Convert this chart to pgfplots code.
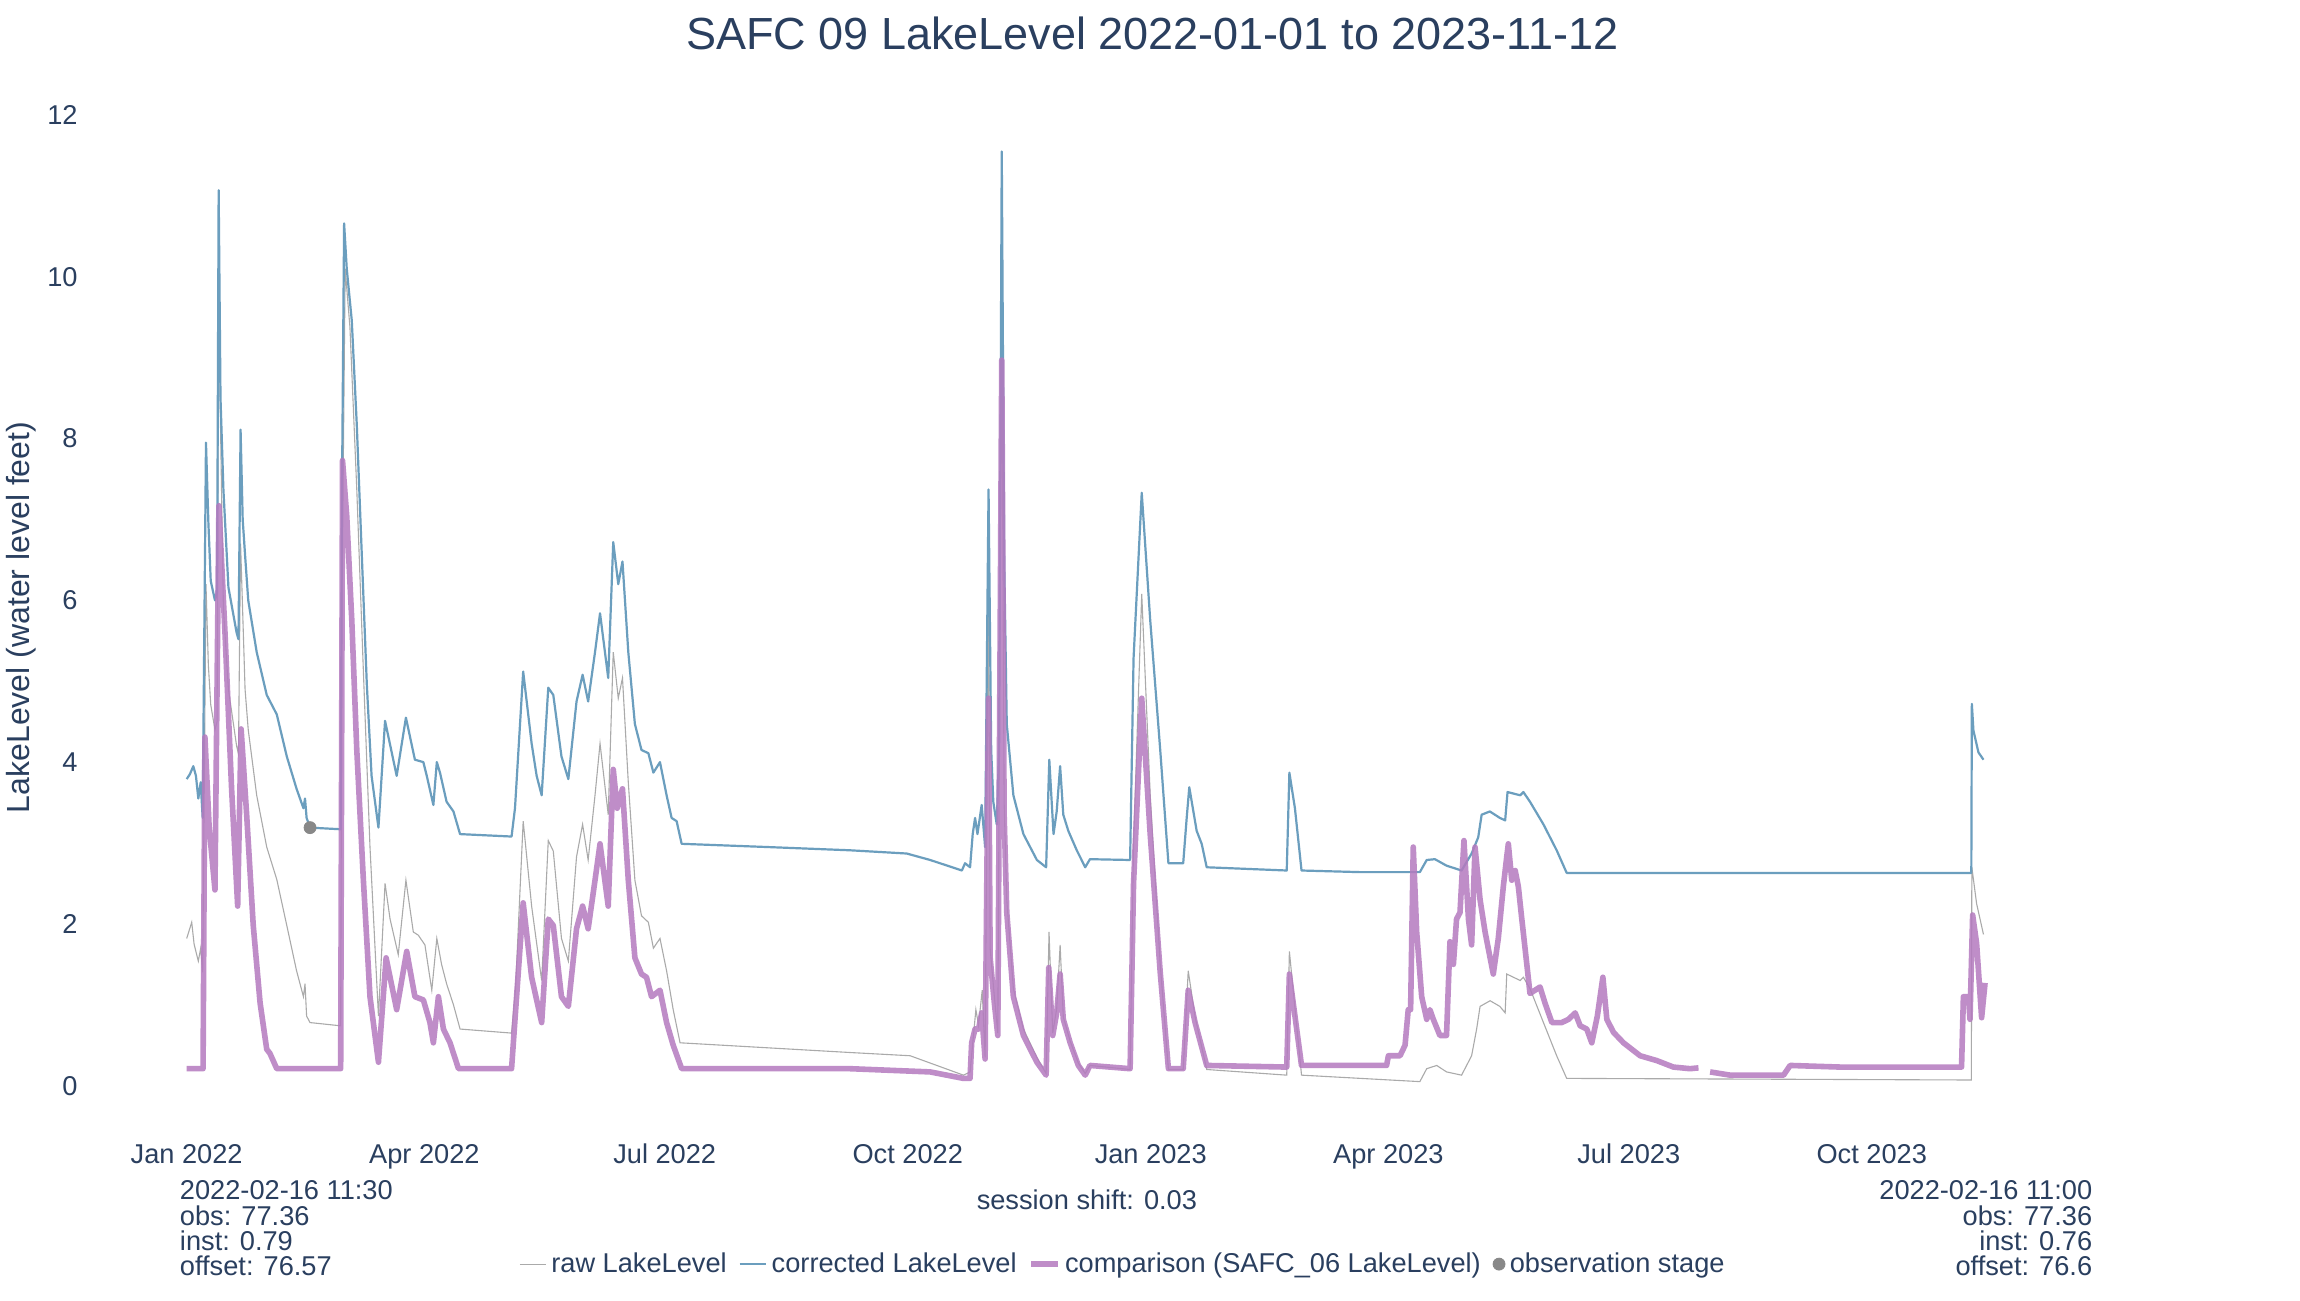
\documentclass[border=0pt]{standalone}
\usepackage{fontspec}
\setmainfont{Liberation Sans}
\usepackage{pgfplots}
\pgfplotsset{compat=1.18}
\definecolor{textcol}{HTML}{2A3F5F}
\definecolor{rawcol}{HTML}{AAAAAA}
\definecolor{corrcol}{HTML}{6B9EBE}
\definecolor{compcol}{HTML}{B47ABF}
\definecolor{obscol}{HTML}{888888}
\newcommand\af{\fontsize{13.6}{16}\selectfont}
\begin{document}
\begin{tikzpicture}
\useasboundingbox (0,0) rectangle (1150pt,-650pt);
\fill[white] (0,0) rectangle (1150pt,-650pt);
\begin{axis}[
  at={(93.35pt,-569.4pt)}, anchor=south west,
  scale only axis, width=962.95pt, height=528.2pt,
  xmin=0, xmax=729.2, ymin=-0.657, ymax=12.403,
  clip=false,
  axis line style={draw=none}, tick style={draw=none}, major tick length=0pt,
  xtick={0,90,181,273,365,455,546,638},
  xticklabels={Jan 2022,Apr 2022,Jul 2022,Oct 2022,Jan 2023,Apr 2023,Jul 2023,Oct 2023},
  ytick={0,2,4,6,8,10,12},
  /pgf/number format/assume math mode=true,
  ticklabel style={font=\af, text=textcol, inner sep=0pt},
  xticklabel style={anchor=base, yshift=-12.5pt},
  yticklabel style={anchor=east, xshift=-54.35pt},
  title={SAFC 09 LakeLevel 2022-01-01 to 2023-11-12},
  every axis title/.style={at={(axis description cs:0.5014,1.0315)}, anchor=base, font=\fontsize{22.5}{27}\selectfont, text=textcol, inner sep=0pt},
  ylabel={LakeLevel (water level feet)},
  every axis y label/.style={at={(axis description cs:-0.0858,0.4935)}, rotate=90, anchor=center, font=\fontsize{16}{19}\selectfont, text=textcol, inner sep=0pt},
  unbounded coords=jump,
  legend columns=4,
  legend cell align=left,
  legend image code/.code={\draw[#1] (0pt,0pt) -- (13.3pt,0pt);},
  legend style={at={(axis description cs:0.4856,-0.1186)}, anchor=center, draw=none, fill=none, inner sep=0pt, font=\af, text=textcol, nodes={inner sep=0pt}, /tikz/every odd column/.append style={column sep=2.2pt}, /tikz/every even column/.append style={column sep=5.9pt}},
]
\addplot[rawcol, line width=0.55pt] coordinates {
(0.0,1.82) (1.9,2.02) (2.8,1.75) (4.4,1.54) (5.3,1.7) (6.05,1.4) (7.3,6.2) (8.2,5.2) (9.1,4.71) (10.7,4.4) (11.5,4.5) (12.1,9.6) (13.9,5.9) (15.8,4.9) (18.9,4.2) (19.6,4.1) (20.4,6.7) (22.1,4.9) (23.3,4.4) (26.5,3.59) (30.3,2.95) (34.1,2.55) (37.9,1.98) (41.6,1.42) (44.2,1.1) (44.8,1.26) (45.4,0.86) (46.7,0.78) (58.3,0.74) (58.8,6.0) (60.0,10.1) (61.8,9.38) (64.4,7.37) (66.9,5.12) (69.4,2.95) (72.6,0.86) (75.1,2.5) (77.0,2.06) (80.1,1.62) (83.0,2.54) (85.8,1.9) (87.7,1.86) (90.2,1.74) (92.8,1.18) (94.7,1.82) (96.5,1.5) (98.4,1.26) (101.0,1.0) (103.5,0.7) (123.0,0.65) (124.5,1.2) (127.4,3.27) (130.6,2.22) (134.4,1.3) (136.9,3.03) (138.8,2.9) (141.9,1.82) (144.5,1.54) (147.6,2.83) (149.9,3.23) (152.0,2.79) (154.6,3.59) (156.5,4.23) (159.6,3.35) (161.5,5.36) (163.4,4.79) (165.0,5.04) (167.2,3.75) (169.7,2.54) (172.2,2.1) (174.8,2.02) (176.7,1.7) (179.2,1.82) (181.7,1.42) (184.2,0.94) (186.8,0.53) (251.1,0.41) (273.9,0.37) (294.1,0.13) (296.6,0.17) (298.8,0.94) (299.8,0.75) (301.2,1.18) (302.3,0.35) (303.6,6.2) (304.2,1.7) (305.8,1.1) (307.1,0.65) (308.6,9.5) (309.5,3.5) (310.5,2.3) (313.0,1.2) (316.8,0.7) (321.9,0.35) (325.4,0.15) (326.5,1.9) (327.9,0.65) (329.4,0.95) (330.7,1.74) (331.9,0.85) (334.5,0.55) (337.6,0.28) (340.2,0.15) (342.0,0.25) (357.2,0.2) (358.5,3.0) (361.6,6.08) (364.8,3.6) (368.6,1.5) (371.7,0.2) (377.3,0.2) (379.2,1.42) (381.8,0.85) (386.2,0.2) (416.5,0.13) (417.5,1.66) (422.1,0.13) (466.9,0.05) (469.5,0.21) (473.3,0.25) (477.0,0.17) (482.7,0.13) (486.5,0.37) (488.4,0.7) (489.7,0.98) (493.5,1.05) (497.2,0.98) (499.2,0.9) (499.8,1.38) (504.9,1.3) (506.1,1.34) (508.6,1.2) (513.7,0.78) (518.7,0.37) (522.5,0.09) (600,0.08) (675.7,0.07) (675.9,2.7) (677.7,2.25) (680.3,1.87)
};
\addlegendentry{raw LakeLevel}
\addplot[corrcol, line width=1.1pt, line join=round] coordinates {
(0.0,3.79) (1.2,3.85) (2.5,3.95) (3.5,3.83) (4.4,3.55) (5.3,3.75) (6.05,3.31) (7.3,7.95) (8.2,6.97) (9.1,6.24) (10.7,6.0) (11.5,6.1) (12.1,11.07) (12.8,8.5) (13.9,7.37) (15.8,6.16) (18.9,5.6) (19.6,5.52) (20.4,8.11) (21.2,7.0) (22.1,6.56) (23.3,6.0) (26.5,5.36) (30.3,4.83) (34.1,4.59) (37.9,4.07) (41.6,3.67) (44.2,3.43) (44.8,3.55) (45.4,3.31) (46.7,3.19) (58.3,3.17) (58.8,7.37) (59.6,10.66) (60.6,10.1) (62.5,9.46) (64.4,8.17) (66.3,6.56) (68.2,4.96) (70.0,3.83) (72.6,3.19) (75.1,4.51) (79.5,3.83) (83.0,4.55) (86.4,4.03) (89.6,4.0) (90.9,3.83) (93.4,3.47) (94.7,4.0) (95.9,3.87) (98.4,3.51) (101.0,3.39) (103.5,3.11) (123.0,3.08) (124.3,3.43) (127.4,5.12) (130.6,4.23) (132.5,3.83) (134.4,3.59) (136.9,4.92) (138.8,4.83) (141.9,4.07) (144.5,3.79) (147.6,4.75) (149.9,5.08) (152.0,4.75) (154.6,5.36) (156.5,5.84) (159.6,5.04) (161.5,6.72) (163.4,6.2) (165.0,6.48) (167.2,5.36) (169.7,4.47) (172.2,4.15) (174.8,4.11) (176.7,3.87) (179.2,4.0) (181.7,3.59) (183.6,3.31) (185.5,3.27) (187.4,2.99) (220,2.95) (251.1,2.91) (272.6,2.87) (281.5,2.79) (293.5,2.66) (294.7,2.75) (296.6,2.7) (297.6,3.11) (298.5,3.31) (299.4,3.11) (301.0,3.47) (302.3,2.95) (303.6,7.37) (304.6,4.15) (305.4,3.51) (306.7,3.23) (307.6,4.15) (308.6,11.55) (309.5,6.56) (310.5,4.47) (313.0,3.59) (316.8,3.11) (321.9,2.79) (325.4,2.7) (326.6,4.03) (328.2,3.11) (329.4,3.39) (330.7,3.95) (331.9,3.35) (333.8,3.15) (337.0,2.91) (340.2,2.7) (342.0,2.8) (357.2,2.79) (358.5,5.28) (361.6,7.33) (364.8,5.76) (368.6,4.15) (371.7,2.75) (377.3,2.75) (378.6,3.3) (379.6,3.69) (382.4,3.15) (384.3,2.99) (386.2,2.7) (416.5,2.66) (417.5,3.87) (419.6,3.43) (422.1,2.66) (444.2,2.64) (466.9,2.64) (469.5,2.79) (472.6,2.8) (477.0,2.72) (482.7,2.66) (486.5,2.87) (489.0,3.07) (490.3,3.35) (493.4,3.39) (497.2,3.31) (499.2,3.28) (500.1,3.63) (504.9,3.59) (506.1,3.63) (508.6,3.51) (513.7,3.23) (518.7,2.91) (522.5,2.63) (600,2.63) (675.7,2.63) (675.9,4.72) (676.5,4.39) (678.4,4.12) (680.3,4.03)
};
\addlegendentry{corrected LakeLevel}
\addplot[compcol, opacity=0.85, line width=2.8pt, line join=round] coordinates {
(0.0,0.21) (6.2,0.21) (6.9,4.31) (8.5,3.2) (10.7,2.42) (12.2,7.17) (14.5,5.6) (17.0,3.67) (19.3,2.22) (20.6,4.41) (22.7,3.35) (25.2,1.98) (27.8,1.02) (30.3,0.45) (31.5,0.4) (34.1,0.21) (58.3,0.21) (59.0,7.73) (60.6,7.04) (62.5,5.76) (64.4,4.15) (66.9,2.54) (69.4,1.1) (72.6,0.29) (75.5,1.58) (79.5,0.94) (83.3,1.66) (86.4,1.1) (89.6,1.06) (92.1,0.78) (93.4,0.53) (95.3,1.1) (97.2,0.7) (99.7,0.53) (102.9,0.21) (123.0,0.21) (124.9,1.1) (127.4,2.26) (130.6,1.34) (134.4,0.78) (136.9,2.06) (138.8,1.98) (141.9,1.1) (144.5,0.98) (147.6,1.94) (149.9,2.22) (152.0,1.94) (154.6,2.54) (156.5,2.99) (159.6,2.22) (161.5,3.91) (163.0,3.43) (165.0,3.67) (167.2,2.54) (169.7,1.58) (172.2,1.38) (174.1,1.34) (176.0,1.1) (179.2,1.18) (181.7,0.78) (184.2,0.5) (187.4,0.21) (251.1,0.21) (281.5,0.17) (294.1,0.09) (296.6,0.09) (297.2,0.53) (298.5,0.7) (299.8,0.7) (301.0,0.9) (302.3,0.33) (303.6,4.79) (304.2,1.58) (305.8,1.02) (307.1,0.62) (308.6,8.97) (309.5,3.35) (310.5,2.14) (313.0,1.1) (316.8,0.62) (321.9,0.29) (325.4,0.13) (326.4,1.46) (327.9,0.62) (329.4,0.9) (330.7,1.38) (331.9,0.82) (334.5,0.53) (337.6,0.25) (340.2,0.13) (342.0,0.25) (357.2,0.21) (358.5,2.5) (361.6,4.79) (364.8,3.11) (368.6,1.4) (371.7,0.21) (377.3,0.21) (379.2,1.18) (381.8,0.78) (386.2,0.25) (416.5,0.23) (417.5,1.38) (422.1,0.25) (454.3,0.25) (455.0,0.37) (459.4,0.37) (461.3,0.5) (462.5,0.94) (463.4,0.94) (464.4,2.95) (465.7,1.9) (467.6,1.1) (469.5,0.82) (470.7,0.94) (472.0,0.82) (474.5,0.62) (477.0,0.62) (478.3,1.78) (479.6,1.5) (480.8,2.06) (482.1,2.14) (483.6,3.03) (485.3,2.06) (486.5,1.74) (487.8,2.95) (489.7,2.3) (491.6,1.9) (493.5,1.58) (494.7,1.38) (496.6,1.82) (498.5,2.46) (499.8,2.83) (500.4,2.99) (501.7,2.54) (503.0,2.66) (504.2,2.46) (505.5,2.06) (507.4,1.5) (508.6,1.14) (510.5,1.18) (512.4,1.22) (514.3,1.02) (516.9,0.78) (520.6,0.78) (523.2,0.82) (525.7,0.9) (527.6,0.74) (530.1,0.7) (532.0,0.53) (534.1,0.86) (536.2,1.34) (537.7,0.82) (540.2,0.66) (544.0,0.53) (550.3,0.37) (556.6,0.31) (562.9,0.23) (569.2,0.21) (572.4,0.22) (574.5,nan) (576.8,0.17) (584.4,0.13) (594.5,0.13) (604.6,0.13) (607.1,0.25) (626,0.23) (672.0,0.23) (672.7,1.1) (674.6,1.1) (675.2,0.82) (676.2,2.11) (677.7,1.76) (679.6,0.84) (680.9,1.27)
};
\addlegendentry{comparison (SAFC\_06 LakeLevel)}
\addplot[only marks, mark=*, mark size=3pt, color=obscol, legend image code/.code={\fill[obscol] (6.65pt,0pt) circle (3pt);}] coordinates {(46.7,3.19)};
\addlegendentry{observation stage}
\node[anchor=base west, inner sep=0pt, font=\af, text=textcol] at (axis description cs:-0.0037,-0.0577) {2022-02-16 11:30};
\node[anchor=base west, inner sep=0pt, font=\af, text=textcol] at (axis description cs:-0.0037,-0.0823) {obs: 77.36};
\node[anchor=base west, inner sep=0pt, font=\af, text=textcol] at (axis description cs:-0.0037,-0.1060) {inst: 0.79};
\node[anchor=base west, inner sep=0pt, font=\af, text=textcol] at (axis description cs:-0.0037,-0.1297) {offset: 76.57};
\node[anchor=base east, inner sep=0pt, font=\af, text=textcol] at (axis description cs:0.9896,-0.0577) {2022-02-16 11:00};
\node[anchor=base east, inner sep=0pt, font=\af, text=textcol] at (axis description cs:0.9896,-0.0823) {obs: 77.36};
\node[anchor=base east, inner sep=0pt, font=\af, text=textcol] at (axis description cs:0.9896,-0.1060) {inst: 0.76};
\node[anchor=base east, inner sep=0pt, font=\af, text=textcol] at (axis description cs:0.9896,-0.1297) {offset: 76.6};
\node[anchor=base, inner sep=0pt, font=\af, text=textcol] at (axis description cs:0.4674,-0.0672) {session shift: 0.03};
\end{axis}
\end{tikzpicture}
\end{document}
